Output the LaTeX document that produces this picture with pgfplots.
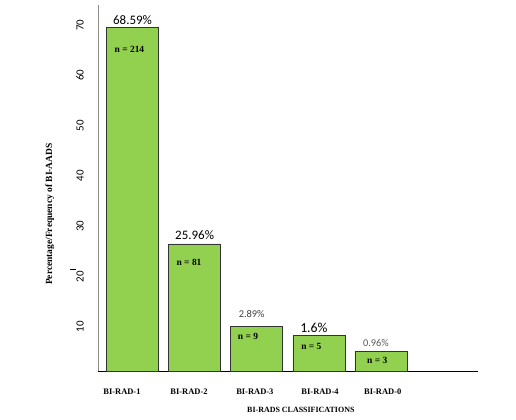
\documentclass[border=0pt]{standalone}
\usepackage{pgfplots}
\pgfplotsset{compat=1.18}
\usepackage{fontspec}
\setmainfont{Liberation Serif}
\newfontfamily\carlito{Carlito}
\definecolor{bargreen}{HTML}{92D050}
\begin{document}
\begin{tikzpicture}
\useasboundingbox (0,0) rectangle (516bp,420bp);
\begin{axis}[
    at={(98bp,49bp)}, anchor=south west,
    scale only axis,
    width=380bp, height=366bp,
    xmin=-0.556, xmax=5.563,
    ymin=0, ymax=72.8,
    axis x line*=bottom,
    axis y line*=left,
    x axis line style={black, thick, -},
    y axis line style={black!45, semithick, -},
    major tick length=0pt,
    ytick={10,20,...,70},
    yticklabel style={xshift=-18bp, yshift=-6bp, rotate=90, anchor=center, font=\carlito\fontsize{11}{13}\selectfont},
    /pgf/number format/assume math mode=true,
    xtick={-0.17,0.91,1.97,3.02,4.03},
    xticklabels={BI-RAD-1,BI-RAD-2,BI-RAD-3,BI-RAD-4,BI-RAD-0},
    xticklabel style={anchor=center, yshift=-21bp, font=\bfseries\fontsize{8.5}{10}\selectfont},
    clip=false,
]
\addplot[ybar, bar width=52bp, fill=bargreen, draw=black!80, semithick]
    coordinates {(0,68.3) (1,25.3) (2,8.85) (3,7.05) (4,3.9)};

% value labels
\node[font=\carlito\fontsize{13}{15}\selectfont] at (axis cs:0,69.8) {68.59\%};
\node[font=\carlito\fontsize{13}{15}\selectfont] at (axis cs:1,27.0) {25.96\%};
\node[font=\carlito\fontsize{10.4}{12}\selectfont, text=black!75] at (axis cs:1.92,11.3) {2.89\%};
\node[font=\carlito\fontsize{13.8}{15}\selectfont] at (axis cs:2.92,8.5) {1.6\%};
\node[font=\carlito\fontsize{10.4}{12}\selectfont, text=black!65] at (axis cs:3.92,5.6) {0.96\%};

% counts
\node[font=\bfseries\fontsize{9.5}{11}\selectfont] at (axis cs:-0.05,64) {n = 214};
\node[font=\bfseries\fontsize{9.5}{11}\selectfont] at (axis cs:0.91,21.7) {n = 81};
\node[font=\bfseries\fontsize{9.5}{11}\selectfont] at (axis cs:1.86,6.8) {n = 9};
\node[font=\bfseries\fontsize{9.5}{11}\selectfont] at (axis cs:2.88,4.8) {n = 5};
\node[font=\bfseries\fontsize{9.5}{11}\selectfont] at (axis cs:3.94,2.2) {n = 3};

% stray dash by the 20 label
\draw[black, semithick] (axis cs:-1.0,20.2) -- (axis cs:-0.91,20.2);

% axis titles
\node[font=\bfseries\fontsize{8}{10}\selectfont] at (axis cs:2.71,-7.75) {BI-RADS CLASSIFICATIONS};
\node[font=\bfseries\fontsize{9.5}{11}\selectfont, rotate=90] at (axis cs:-1.33,31.2) {Percentage/Frequency of BI-AADS};
\end{axis}
\end{tikzpicture}
\end{document}
